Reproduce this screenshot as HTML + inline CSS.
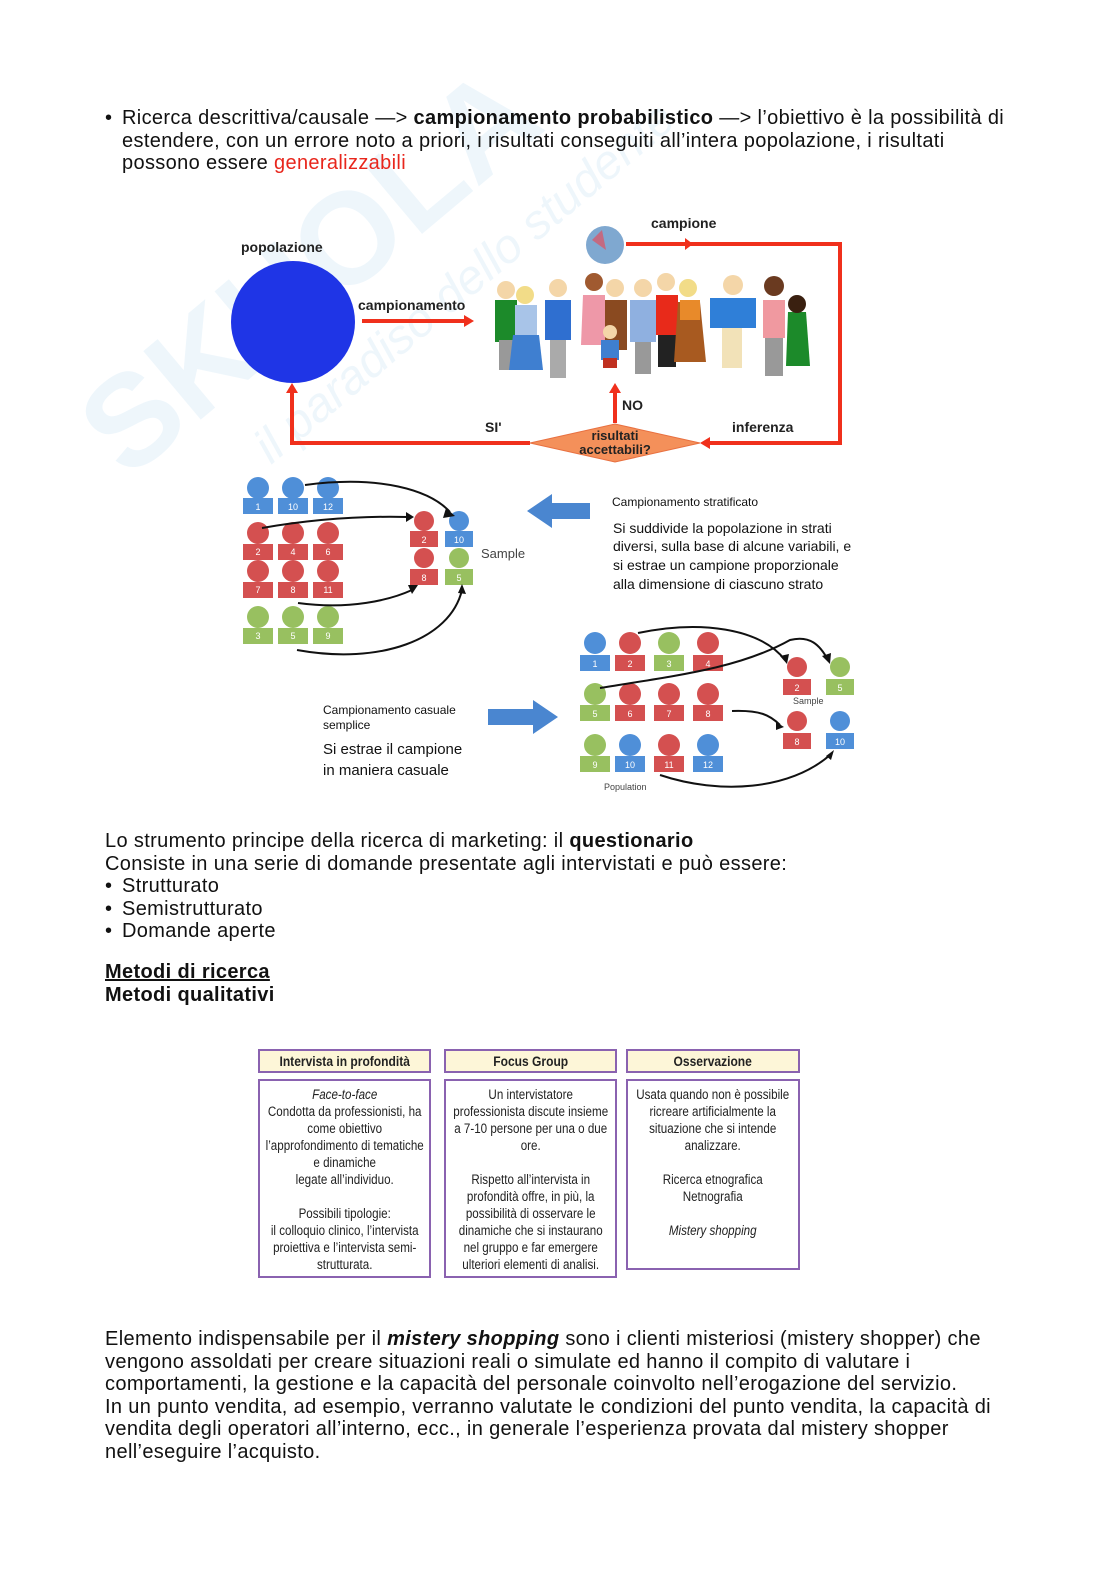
<!DOCTYPE html>
<html><head><meta charset="utf-8"><style>
body{margin:0;background:#fff;width:1116px;height:1579px;position:relative;overflow:hidden;font-family:"Liberation Sans",sans-serif;color:#111}
.t{position:absolute;font-size:20px;letter-spacing:0.35px;line-height:22.6px;white-space:nowrap}
.box{position:absolute;border:2px solid #8a62b0;box-sizing:border-box;color:#222;overflow:hidden}
.in{position:absolute;left:0;top:5px;width:197px;transform:scaleX(0.86);transform-origin:0 0;text-align:center;white-space:nowrap;font-size:13.5px;line-height:17px}
.hd{background:#fdf6d8;font-weight:bold;font-size:14px;line-height:22px}
.hd .in{top:0;line-height:20px;font-size:14px}
</style></head><body>

<svg width="1116" height="1579" style="position:absolute;left:0;top:0">
<g opacity="0.07" transform="rotate(-40 250 300)">
<text x="40" y="360" font-family="Liberation Sans" font-weight="bold" font-size="130" fill="#1a8ad4">SKUOLA</text>
<text x="160" y="440" font-family="Liberation Sans" font-style="italic" font-size="48" fill="#1a8ad4">il paradiso dello studente</text>
</g>

<g font-family="Liberation Sans" font-weight="bold" font-size="14" fill="#222">
<text x="241" y="252">popolazione</text>
<text x="358" y="310">campionamento</text>
<text x="651" y="228">campione</text>
<text x="622" y="410">NO</text>
<text x="485" y="432">SI'</text>
<text x="732" y="432">inferenza</text>
</g>
<ellipse cx="293" cy="322" rx="62" ry="61" fill="#1f35e6"/>
<g stroke="#f0301c" stroke-width="4" fill="none">
<polyline points="626,244 840,244 840,443 705,443"/>
<polyline points="530,443 292,443 292,392"/>
<line x1="615" y1="423" x2="615" y2="392"/>
<line x1="362" y1="321" x2="466" y2="321"/>
</g>
<g fill="#f0301c">
<polygon points="685,238 693,244 685,250"/>
<polygon points="700,443 710,437 710,449"/>
<polygon points="286,393 292,383 298,393"/>
<polygon points="609,393 615,383 621,393"/>
<polygon points="464,315 474,321 464,327"/>
</g>
<polygon points="530,443 615,424 700,443 615,462" fill="#f4905a" stroke="#e87040"/>
<text x="615" y="440" text-anchor="middle" font-family="Liberation Sans" font-weight="bold" font-size="13" fill="#222">risultati</text>
<text x="615" y="454" text-anchor="middle" font-family="Liberation Sans" font-weight="bold" font-size="13" fill="#222">accettabili?</text>
<circle cx="605" cy="245" r="19" fill="#7fa8d0"/>
<path d="M592 240 l10 -10 l4 20 z" fill="#e05060" opacity=".7"/>
<g>
<rect x="495" y="300" width="22" height="42" fill="#1c8a2a"/><rect x="499" y="340" width="14" height="30" fill="#999"/><circle cx="506" cy="290" r="9" fill="#f4d6a8"/>
<rect x="515" y="305" width="22" height="30" fill="#a8c4e8"/><path d="M513 335 h26 l4 35 h-34z" fill="#3f7fd0"/><circle cx="525" cy="295" r="9" fill="#f2dc88"/>
<rect x="545" y="300" width="26" height="40" fill="#2f6fd0"/><rect x="550" y="340" width="16" height="38" fill="#aaa"/><circle cx="558" cy="288" r="9" fill="#f4d6a8"/>
<path d="M583 295 h22 v50 h-24z" fill="#ee98a8"/><circle cx="594" cy="282" r="9" fill="#a05a30"/>
<rect x="605" y="300" width="22" height="50" fill="#8a4a20"/><circle cx="615" cy="288" r="9" fill="#f4d6a8"/>
<rect x="601" y="340" width="18" height="20" fill="#3f7fd0"/><rect x="603" y="358" width="14" height="10" fill="#c03020"/><circle cx="610" cy="332" r="7" fill="#f4d6a8"/>
<rect x="630" y="300" width="26" height="42" fill="#8fb0e0"/><rect x="635" y="342" width="16" height="32" fill="#999"/><circle cx="643" cy="288" r="9" fill="#f4d6a8"/>
<rect x="656" y="295" width="22" height="40" fill="#e82a1a"/><rect x="658" y="335" width="18" height="32" fill="#222"/><circle cx="666" cy="282" r="9" fill="#f4d6a8"/>
<path d="M678 302 h22 l6 60 h-32z" fill="#a85a20"/><rect x="680" y="300" width="20" height="20" fill="#e88a2a"/><circle cx="688" cy="288" r="9" fill="#f2dc88"/>
<rect x="710" y="298" width="46" height="30" fill="#2f7fd8"/><rect x="722" y="328" width="20" height="40" fill="#f2e2b8"/><circle cx="733" cy="285" r="10" fill="#f4d6a8"/>
<rect x="763" y="300" width="22" height="38" fill="#f099a0"/><rect x="765" y="338" width="18" height="38" fill="#999"/><circle cx="774" cy="286" r="10" fill="#6a3a20"/>
<path d="M788 312 h18 l4 54 h-24z" fill="#1c8a2a"/><circle cx="797" cy="304" r="9" fill="#3a2010"/>
</g>

<g font-family="Liberation Sans" font-size="9" fill="#fff" text-anchor="middle">
<g fill="#4f8fd8"><circle cx="258" cy="488" r="11"/><circle cx="293" cy="488" r="11"/><circle cx="328" cy="488" r="11"/><circle cx="459" cy="521" r="10"/><circle cx="595" cy="643" r="11"/><circle cx="630" cy="745" r="11"/><circle cx="708" cy="745" r="11"/><circle cx="840" cy="721" r="10"/>
<rect x="243" y="498" width="30" height="16"/><rect x="278" y="498" width="30" height="16"/><rect x="313" y="498" width="30" height="16"/><rect x="445" y="531" width="28" height="16"/><rect x="580" y="655" width="30" height="16"/><rect x="615" y="756" width="30" height="16"/><rect x="693" y="756" width="30" height="16"/><rect x="826" y="733" width="28" height="16"/></g>
<g fill="#d45050"><circle cx="258" cy="533" r="11"/><circle cx="293" cy="533" r="11"/><circle cx="328" cy="533" r="11"/><circle cx="258" cy="571" r="11"/><circle cx="293" cy="571" r="11"/><circle cx="328" cy="571" r="11"/><circle cx="424" cy="521" r="10"/><circle cx="424" cy="558" r="10"/><circle cx="630" cy="643" r="11"/><circle cx="708" cy="643" r="11"/><circle cx="630" cy="694" r="11"/><circle cx="669" cy="694" r="11"/><circle cx="708" cy="694" r="11"/><circle cx="669" cy="745" r="11"/><circle cx="797" cy="667" r="10"/><circle cx="797" cy="721" r="10"/>
<rect x="243" y="544" width="30" height="16"/><rect x="278" y="544" width="30" height="16"/><rect x="313" y="544" width="30" height="16"/><rect x="243" y="582" width="30" height="16"/><rect x="278" y="582" width="30" height="16"/><rect x="313" y="582" width="30" height="16"/><rect x="410" y="531" width="28" height="16"/><rect x="410" y="569" width="28" height="16"/><rect x="615" y="655" width="30" height="16"/><rect x="693" y="655" width="30" height="16"/><rect x="615" y="705" width="30" height="16"/><rect x="654" y="705" width="30" height="16"/><rect x="693" y="705" width="30" height="16"/><rect x="654" y="756" width="30" height="16"/><rect x="783" y="679" width="28" height="16"/><rect x="783" y="733" width="28" height="16"/></g>
<g fill="#98c060"><circle cx="258" cy="617" r="11"/><circle cx="293" cy="617" r="11"/><circle cx="328" cy="617" r="11"/><circle cx="459" cy="558" r="10"/><circle cx="669" cy="643" r="11"/><circle cx="595" cy="694" r="11"/><circle cx="595" cy="745" r="11"/><circle cx="840" cy="667" r="10"/>
<rect x="243" y="628" width="30" height="16"/><rect x="278" y="628" width="30" height="16"/><rect x="313" y="628" width="30" height="16"/><rect x="445" y="569" width="28" height="16"/><rect x="654" y="655" width="30" height="16"/><rect x="580" y="705" width="30" height="16"/><rect x="580" y="756" width="30" height="16"/><rect x="826" y="679" width="28" height="16"/></g>
<text x="258" y="510">1</text><text x="293" y="510">10</text><text x="328" y="510">12</text>
<text x="258" y="555">2</text><text x="293" y="555">4</text><text x="328" y="555">6</text>
<text x="258" y="593">7</text><text x="293" y="593">8</text><text x="328" y="593">11</text>
<text x="258" y="639">3</text><text x="293" y="639">5</text><text x="328" y="639">9</text>
<text x="424" y="543">2</text><text x="459" y="543">10</text><text x="424" y="581">8</text><text x="459" y="581">5</text>
<text x="595" y="667">1</text><text x="630" y="667">2</text><text x="669" y="667">3</text><text x="708" y="667">4</text>
<text x="595" y="717">5</text><text x="630" y="717">6</text><text x="669" y="717">7</text><text x="708" y="717">8</text>
<text x="595" y="768">9</text><text x="630" y="768">10</text><text x="669" y="768">11</text><text x="708" y="768">12</text>
<text x="797" y="691">2</text><text x="840" y="691">5</text><text x="797" y="745">8</text><text x="840" y="745">10</text>
</g>
<g fill="none" stroke="#111" stroke-width="2">
<path d="M305 485 C380 475 430 490 450 512"/>
<path d="M262 528 C320 518 370 516 408 517"/>
<path d="M298 603 C350 610 390 600 412 590"/>
<path d="M297 650 C380 665 450 640 462 590"/>
<path d="M638 633 C700 620 760 628 785 660"/>
<path d="M600 688 C680 675 740 668 790 640 C810 635 820 645 828 660"/>
<path d="M732 711 C760 710 770 715 780 725"/>
<path d="M660 775 C720 795 790 790 830 755"/>
</g>
<g fill="#111">
<polygon points="446,508 455,516 443,518"/><polygon points="406,512 414,517 406,522"/><polygon points="408,585 418,585 412,594"/><polygon points="458,593 462,584 466,594"/>
<polygon points="780,656 787,664 789,654"/><polygon points="822,656 830,664 831,653"/><polygon points="776,722 784,727 776,730"/><polygon points="826,756 834,750 831,760"/>
</g>
<g font-family="Liberation Sans" fill="#444">
<text x="481" y="558" font-size="13">Sample</text>
<text x="793" y="704" font-size="9">Sample</text>
<text x="604" y="790" font-size="9">Population</text>
</g>
<polygon points="527,511 552,494 552,503 590,503 590,519 552,519 552,528" fill="#4a86d0"/>
<polygon points="558,717 533,700 533,709 488,709 488,725 533,725 533,734" fill="#4a86d0"/>
<g font-family="Liberation Sans" fill="#111">
<text x="612" y="506" font-size="12">Campionamento stratificato</text>
<text x="613" y="533" font-size="14">Si suddivide la popolazione in strati</text>
<text x="613" y="551" font-size="14">diversi, sulla base di alcune variabili, e</text>
<text x="613" y="570" font-size="14">si estrae un campione proporzionale</text>
<text x="613" y="589" font-size="14">alla dimensione di ciascuno strato</text>
<text x="323" y="714" font-size="12">Campionamento casuale</text>
<text x="323" y="729" font-size="12">semplice</text>
<text x="323" y="754" font-size="15">Si estrae il campione</text>
<text x="323" y="775" font-size="15">in maniera casuale</text>
</g>
</svg>

<div class="t" style="left:105px;top:107px">•</div>
<div class="t" style="left:122px;top:107px">Ricerca descrittiva/causale —&gt; <b>campionamento probabilistico</b> —&gt; l’obiettivo è la possibilità di<br>estendere, con un errore noto a priori, i risultati conseguiti all’intera popolazione, i risultati<br>possono essere <span style="color:#e8261c">generalizzabili</span></div>

<div class="t" style="left:105px;top:830px">Lo strumento principe della ricerca di marketing: il <b>questionario</b><br>Consiste in una serie di domande presentate agli intervistati e può essere:</div>
<div class="t" style="left:105px;top:875px">•<br>•<br>•</div>
<div class="t" style="left:122px;top:875px">Strutturato<br>Semistrutturato<br>Domande aperte</div>
<div class="t" style="left:105px;top:961px;font-weight:bold"><u>Metodi di ricerca</u><br>Metodi qualitativi</div>

<div class="box hd" style="left:258px;top:1049px;width:173px;height:24px"><div class="in">Intervista in profondità</div></div>
<div class="box hd" style="left:444px;top:1049px;width:173px;height:24px"><div class="in">Focus Group</div></div>
<div class="box hd" style="left:626px;top:1049px;width:174px;height:24px"><div class="in">Osservazione</div></div>
<div class="box" style="left:258px;top:1079px;width:173px;height:199px"><div class="in"><i>Face-to-face</i><br>Condotta da professionisti, ha<br>come obiettivo<br>l’approfondimento di tematiche<br>e dinamiche<br>legate all’individuo.<br><br>Possibili tipologie:<br>il colloquio clinico, l’intervista<br>proiettiva e l’intervista semi-<br>strutturata.</div></div>
<div class="box" style="left:444px;top:1079px;width:173px;height:199px"><div class="in">Un intervistatore<br>professionista discute insieme<br>a 7-10 persone per una o due<br>ore.<br><br>Rispetto all’intervista in<br>profondità offre, in più, la<br>possibilità di osservare le<br>dinamiche che si instaurano<br>nel gruppo e far emergere<br>ulteriori  elementi di analisi.</div></div>
<div class="box" style="left:626px;top:1079px;width:174px;height:191px"><div class="in">Usata quando non è possibile<br>ricreare artificialmente la<br>situazione che si intende<br>analizzare.<br><br>Ricerca etnografica<br>Netnografia<br><br><i>Mistery shopping</i></div></div>

<div class="t" style="left:105px;top:1328px">Elemento indispensabile per il <b><i>mistery shopping</i></b> sono i clienti misteriosi (mistery shopper) che<br>vengono assoldati per creare situazioni reali o simulate ed hanno il compito di valutare i<br>comportamenti, la gestione e la capacità del personale coinvolto nell’erogazione del servizio.<br>In un punto vendita, ad esempio, verranno valutate le condizioni del punto vendita, la capacità di<br>vendita degli operatori all’interno, ecc., in generale l’esperienza provata dal mistery shopper<br>nell’eseguire l’acquisto.</div>
</body></html>
